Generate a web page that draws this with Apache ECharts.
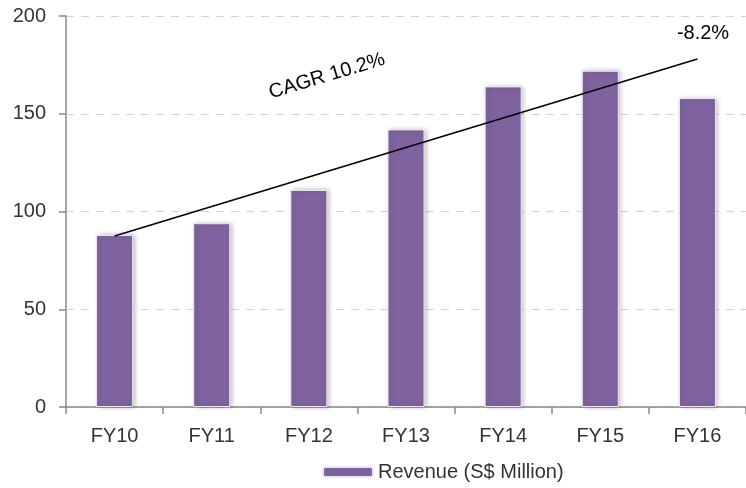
<!DOCTYPE html>
<html>
<head>
<meta charset="utf-8">
<script src="https://cdn.jsdelivr.net/npm/echarts@6/dist/echarts.min.js"></script>
<style>
  html, body { margin: 0; padding: 0; background: #fff; }
  #main { width: 746px; height: 488px; }
</style>
</head>
<body>
<div id="main"></div>
<script>
// 数据
var years = ['FY10', 'FY11', 'FY12', 'FY13', 'FY14', 'FY15', 'FY16'];
var revenue = [88, 94, 111, 142, 164, 172, 158];
var yTicks = [0, 50, 100, 150, 200];
// CAGR 趋势线两端
var trendStart = ['FY10', 87.5];
var trendEnd = ['FY16', 178];

var oChart = echarts.init(document.getElementById('main'));
var font = '"Liberation Sans", Arial, sans-serif';

var opt = {
   animation: false,
   grid: {
      left: 66,
      right: -4,
      top: 16,
      bottom: 81
   },
   legend: {
      left: 322,
      top: 462,
      padding: 0,
      itemWidth: 50,
      itemHeight: 10,
      itemGap: 4,
      textStyle: { fontFamily: font, fontSize: 20, color: '#333' },
      data: ['Revenue (S$ Million)']
   },
   xAxis: [{
      type: 'category',
      data: years,
      axisLine: { lineStyle: { color: '#888', width: 1.5 } },
      axisTick: { show: true, length: 7, lineStyle: { color: '#888', width: 1.5 } },
      axisLabel: { fontFamily: font, fontSize: 20, color: '#333', margin: 19 }
   }],
   yAxis: [{
      type: 'value',
      min: 0,
      max: 200,
      interval: 50,
      axisLine: { show: true, lineStyle: { color: '#888', width: 1.5 } },
      axisTick: { show: true, length: 7, lineStyle: { color: '#888', width: 1.5 } },
      axisLabel: {
         fontFamily: font, fontSize: 20, color: '#333', margin: 20,
         formatter: function (v) { return yTicks.indexOf(v) > -1 ? v : ''; }
      },
      splitLine: { lineStyle: { color: '#d4d4d4', type: [8, 7], width: 1.2 } }
   }],
   series: [{
      name: 'Revenue (S$ Million)',
      type: 'bar',
      barWidth: 37,
      itemStyle: {
         color: '#7f63a0',
         borderColor: '#ece6f2',
         borderWidth: 1,
         shadowBlur: 5,
         shadowColor: 'rgba(0,0,0,0.25)',
         shadowOffsetX: 2,
         shadowOffsetY: 0
      },
      data: revenue,
      markLine: {
         silent: true,
         symbol: 'none',
         label: { show: false },
         lineStyle: { color: '#000', type: 'solid', width: 1.5 },
         data: [[
            { coord: trendStart },
            { coord: trendEnd }
         ]]
      }
   }],
   graphic: [{
      type: 'text',
      x: 327,
      y: 76,
      rotation: 0.29,
      style: {
         text: 'CAGR 10.2%',
         font: '20px ' + font,
         fill: '#000',
         align: 'center',
         verticalAlign: 'middle'
      }
   }, {
      type: 'text',
      x: 703,
      y: 33,
      style: {
         text: '-8.2%',
         font: '20px ' + font,
         fill: '#000',
         align: 'center',
         verticalAlign: 'middle'
      }
   }]
};
oChart.setOption(opt);
</script>
</body>
</html>
